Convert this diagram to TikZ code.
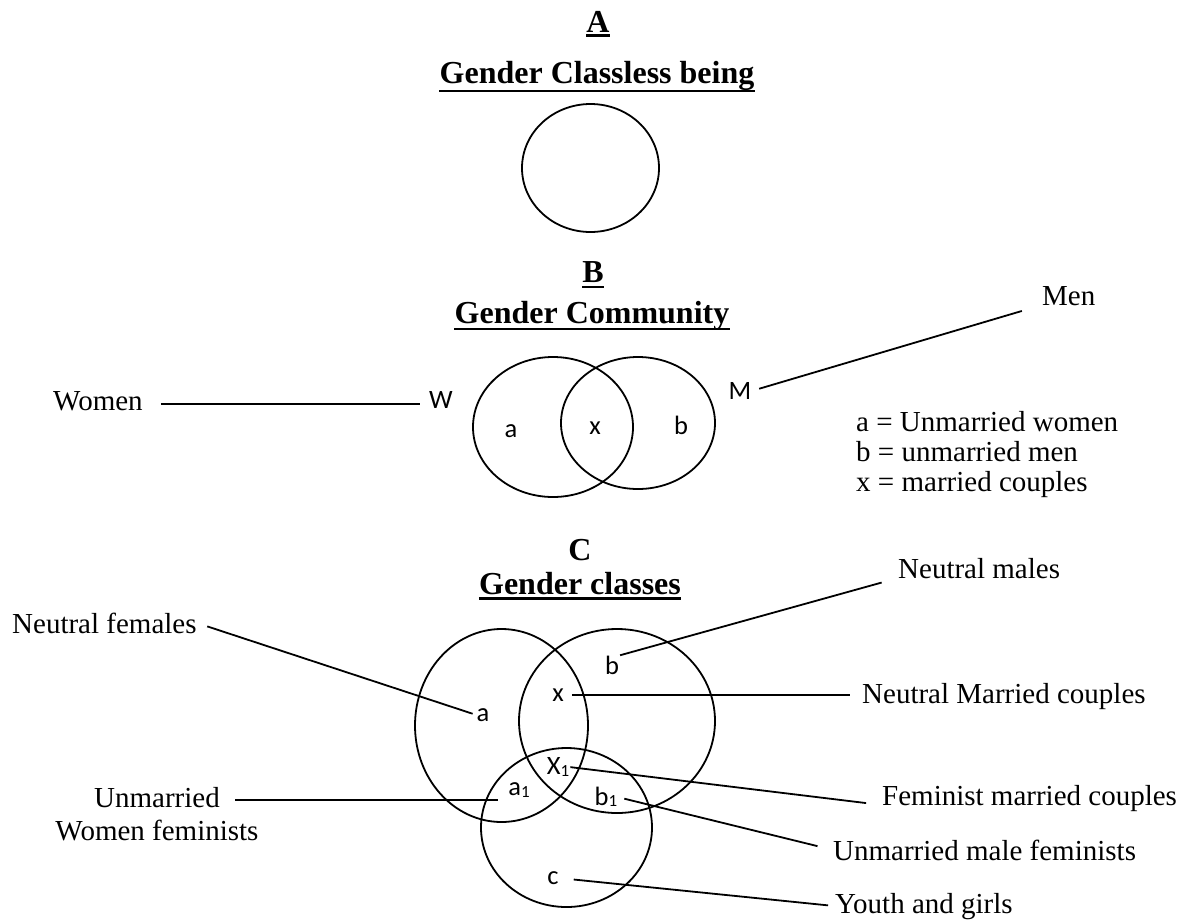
\documentclass[tikz,border=0pt]{standalone}
\usepackage{fontspec}
\usetikzlibrary{positioning}
\setmainfont{Liberation Serif}
\newfontfamily\calfont{Carlito}
\definecolor{ink}{HTML}{000000}
\newcommand{\txtf}{\fontsize{29}{33}\selectfont}
\newcommand{\hdf}{\fontsize{32}{36}\selectfont\bfseries}
\newcommand{\letf}{\calfont\fontsize{26.5}{30}\selectfont}
\newcommand{\sbs}[1]{\raisebox{-1.5pt}{\fontsize{17}{17}\selectfont #1}}
\tikzset{
  txt/.style={inner sep=0,text=ink,font=\txtf},
  hd/.style={inner sep=0,text=ink,font=\hdf,anchor=base},
  sym/.style={inner sep=0,text=ink,font=\letf},
  ring/.style={draw=ink,line width=1.8pt},
  lead/.style={draw=ink,line width=1.8pt},
  uln/.style={draw=ink,line width=2.4pt}
}
\begin{document}
\begin{tikzpicture}[x=1pt,y=-1pt]
\useasboundingbox (0,0) rectangle (1192,922);
\node[hd] (lA) at (598,32) {A};
\node[hd] (tA) at (597,83) {Gender Classless being};
\draw[uln] ([yshift=-3.5pt]lA.base west) -- ([yshift=-3.5pt]lA.base east);
\draw[uln] ([yshift=-8pt]tA.base west) -- ([yshift=-8pt]tA.base east);
\draw[ring] (590.5,168) ellipse [x radius=68.5,y radius=64];

\node[hd] (lB) at (593,282) {B};
\node[hd] (tB) at (592,323) {Gender Community};
\draw[uln] ([yshift=-5pt]lB.base west) -- ([yshift=-5pt]lB.base east);
\draw[uln] ([yshift=-6pt]tB.base west) -- ([yshift=-6pt]tB.base east);
\draw[ring] (553,427) ellipse [x radius=80,y radius=70];
\draw[ring] (638,423) ellipse [x radius=77,y radius=66];
\node[sym] (Bw) at (441,400) {W};
\node[sym] (Bm) at (740,391) {M};
\node[sym] (Ba) at (511,431) {a};
\node[sym] (Bx) at (595,428) {x};
\node[sym] (Bb) at (681,425) {b};
\node[txt,anchor=base west] (women) at (53,410) {Women};
\node[txt,anchor=base west] (men) at (1042,305) {Men};
\draw[lead,shorten <=18pt,shorten >=9pt] ([yshift=-3pt]women.east) -- ([yshift=-3pt]women.east -| Bw.west);
\draw[lead,shorten <=8pt,shorten >=21pt] (Bm.east) -- (men.base west);
\node[txt,anchor=base west] (keya) at (856,431) {a = Unmarried women};
\node[txt,anchor=base west] (keyb) at (856,461) {b = unmarried men};
\node[txt,anchor=base west] (keyx) at (856,491) {x = married couples};

\node[hd] (lC) at (580,560) {C};
\node[hd] (tC) at (580,594) {Gender classes};
\draw[uln] ([yshift=-4.5pt]tC.base west) -- ([yshift=-4.5pt]tC.base east);
\draw[ring] (501.5,725.5) ellipse [x radius=86.5,y radius=96.5];
\draw[ring] (617,721) ellipse [x radius=98,y radius=92];
\draw[ring] (566.5,827.5) ellipse [x radius=85.5,y radius=79.5];
\node[sym] (Ca) at (483,715) {a};
\node[sym] (Cx) at (558,695) {x};
\node[sym] (Cb) at (612,665) {b};
\node[sym] (Cx1) at (558,767) {X\sbs{1}};
\node[sym] (Ca1) at (519,790) {a\sbs{1}};
\node[sym] (Cb1) at (606,797) {b\sbs{1}};
\node[sym] (Cc) at (553,878) {c};
\node[txt,anchor=base west] (nfem) at (12,633) {Neutral females};
\node[txt,anchor=base west] (nmal) at (898,578) {Neutral males};
\node[txt,anchor=base west] (nmar) at (862,703) {Neutral Married couples};
\node[txt,anchor=base west] (fmar) at (882,805) {Feminist married couples};
\node[txt,anchor=base] (unm) at (157,807) {Unmarried};
\node[txt,anchor=base] (wfem) at (157,840) {Women feminists};
\node[txt,anchor=base west] (umf) at (833,860) {Unmarried male feminists};
\node[txt,anchor=base west] (youth) at (835,913) {Youth and girls};
\draw[lead,shorten <=11pt,shorten >=4pt] (nfem.east) -- (Ca.west);
\draw[lead,shorten <=1pt,shorten >=17pt] (Cb.north east) -- (nmal.base west);
\draw[lead,shorten <=8pt,shorten >=12pt] (Cx.east) -- (Cx.east -| nmar.west);
\draw[lead,shorten <=1pt,shorten >=16pt] (Cx1.east) -- (fmar.base west);
\draw[lead,shorten <=15pt,shorten >=10pt] ([yshift=-3pt]unm.east) -- ([yshift=-3pt]unm.east -| Ca1.west);
\draw[lead,shorten <=7pt,shorten >=16pt] (Cb1.east) -- (umf.west);
\draw[lead,shorten <=15pt,shorten >=7pt] (Cc.east) -- (youth.west);
\end{tikzpicture}
\end{document}
